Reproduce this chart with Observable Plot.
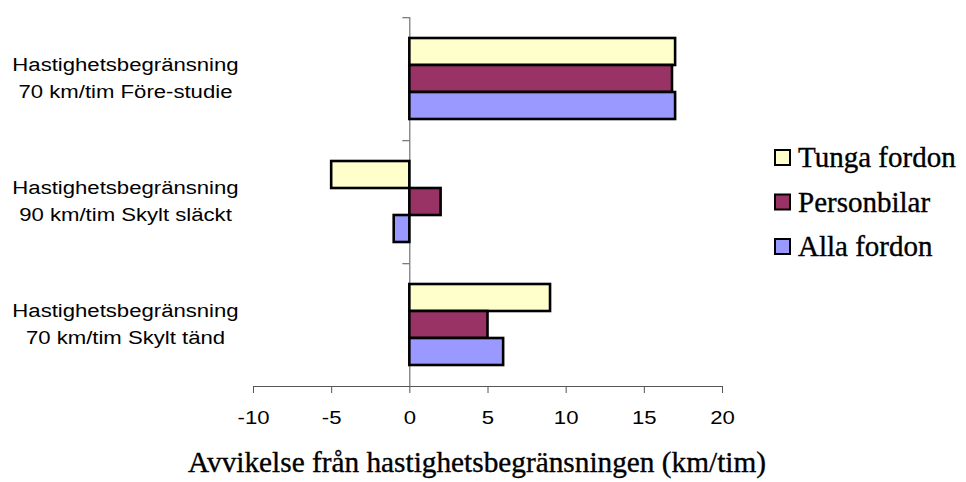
<!DOCTYPE html>
<html>
<head>
<meta charset="utf-8">
<script src="https://cdn.jsdelivr.net/npm/d3@7"></script>
<script src="https://cdn.jsdelivr.net/npm/@observablehq/plot@0.6"></script>
<style>
  html, body { margin: 0; padding: 0; background: #ffffff; overflow: hidden; }
  #wrap { position: relative; width: 966px; height: 482px; }
  #wrap svg g[aria-label="x-axis label"] text {
    font-family: "Liberation Serif", "Times New Roman", serif;
    font-size: 29.3px;
    stroke: #000; stroke-width: 0.35px;
  }
  #legend { position: absolute; left: 770px; top: 130px; }
  #legend text { font-family: "Liberation Serif", "Times New Roman", serif; font-size: 29px; fill: #000; stroke: #000; stroke-width: 0.35px; }
</style>
</head>
<body>
<div id="wrap"><div id="legend"></div></div>
<script>
// ---- data ----
const categories = [
  "Hastighetsbegränsning\n70 km/tim Före-studie",
  "Hastighetsbegränsning\n90 km/tim Skylt släckt",
  "Hastighetsbegränsning\n70 km/tim Skylt tänd"
];
const seriesNames = ["Tunga fordon", "Personbilar", "Alla fordon"];
const tungaFordon = [17, -5, 9];
const personbilar = [16.8, 2, 5];
const allaFordon = [17, -1, 6];
const xTicks = [-10, -5, 0, 5, 10, 15, 20];
const xTitle = "Avvikelse från hastighetsbegränsningen (km/tim)";
const seriesColors = ["#FFFFCC", "#993366", "#9999FF"];

// ---- table built from arrays ----
const seriesValues = [tungaFordon, personbilar, allaFordon];
const rows = categories.flatMap((c, i) =>
  seriesNames.map((s, j) => ({category: c, series: s, value: seriesValues[j][i]}))
);

// ---- layout ----
const W = 966, H = 482;
const mTop = 16, mBottom = 96, mLeft = 253, mRight = 244;
const padOuter = 0.75;
const facetH = (H - mTop - mBottom) / categories.length;
const step = facetH / (seriesNames.length + 2 * padOuter);
const pxPerUnit = (W - mLeft - mRight) / (xTicks[xTicks.length - 1] - xTicks[0]);
const tickLen = 7 / pxPerUnit;
const axisGray = "#555";

const chart = Plot.plot({
  width: W,
  height: H,
  marginTop: mTop,
  marginBottom: mBottom,
  marginLeft: mLeft,
  marginRight: mRight,
  style: {fontFamily: "'Liberation Sans', Arial, sans-serif", fontSize: "18px", color: "#000", background: "#fff"},
  x: {domain: [xTicks[0], xTicks[xTicks.length - 1]]},
  y: {domain: seriesNames, paddingInner: 0, paddingOuter: padOuter, axis: null},
  fy: {domain: categories, padding: 0, label: null},
  color: {domain: seriesNames, range: seriesColors},
  marks: [
    Plot.ruleX([0], {stroke: axisGray, strokeWidth: 1}),
    Plot.ruleY(categories, {
      fy: d => d, y: () => seriesNames[0],
      x1: 0, x2: -tickLen, dy: -(padOuter + 0.5) * step,
      stroke: axisGray, strokeWidth: 1
    }),
    Plot.frame({anchor: "bottom", facetAnchor: "bottom", stroke: axisGray, strokeWidth: 1}),
    Plot.barX(rows, {
      fy: "category", y: "series", x: "value",
      fill: "series", stroke: "#000", strokeWidth: 2.6
    }),
    Plot.axisFy({
      anchor: "left", label: null, tickSize: 0, tickPadding: 0,
      textAnchor: "middle", dx: -128, dy: -3, lineHeight: 1.48, fill: "#000"
    }),
    Plot.axisX({
      ticks: xTicks, tickFormat: d => String(d), tickSize: 7, tickPadding: 18,
      stroke: axisGray, fill: "#000", label: null
    }),
    Plot.axisX({
      ticks: [], tickSize: 0, fill: "#000",
      label: xTitle, labelAnchor: "center", labelArrow: false, labelOffset: 85
    })
  ]
});
document.getElementById("wrap").appendChild(chart);

// widen sans-serif tick labels horizontally (reference uses a wide rendering)
const sx = 1.23;
chart.querySelectorAll('g[aria-label$="tick label"] text').forEach(el => {
  const t = el.getAttribute("transform") || "";
  const x = +(el.getAttribute("x") || 0);
  el.setAttribute("transform", `${t} translate(${x},0) scale(${sx},1) translate(${-x},0)`);
});
// nudge the axis title slightly left, as in the reference
chart.querySelectorAll('g[aria-label="x-axis label"]').forEach(g => {
  const t = g.getAttribute("transform") || "";
  g.setAttribute("transform", `${t} translate(-11,0)`);
});

// ---- legend ----
const rowGap = 44.5;
const lg = d3.select("#legend").append("svg").attr("width", 196).attr("height", 140);
const items = lg.selectAll("g").data(seriesNames).join("g")
  .attr("transform", (d, i) => `translate(0,${28 + i * rowGap})`);
items.append("rect")
  .attr("x", 5).attr("y", -8).attr("width", 15).attr("height", 15)
  .attr("fill", (d, i) => seriesColors[i]).attr("stroke", "#000").attr("stroke-width", 2);
items.append("text").attr("x", 28).attr("y", 9).text(d => d);
</script>
</body>
</html>
